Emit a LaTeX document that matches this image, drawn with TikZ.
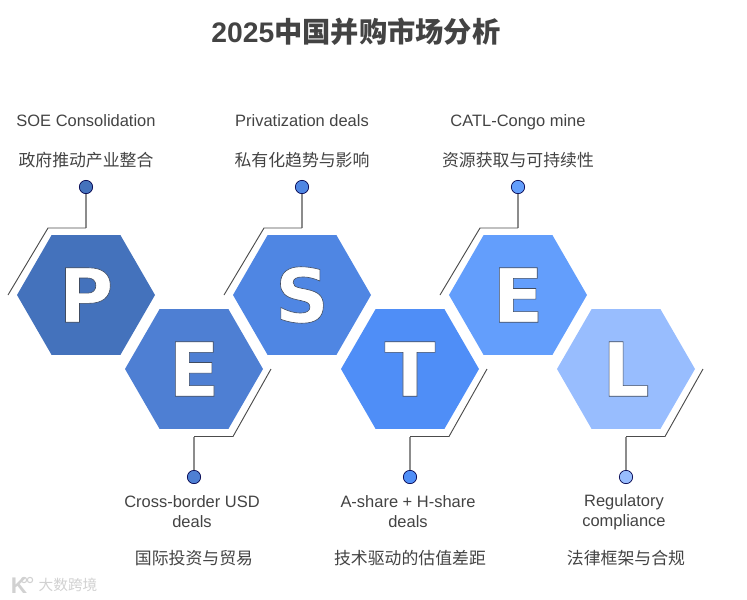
\documentclass[tikz,border=0pt]{standalone}
\usepackage{fontspec}
\setmainfont{Liberation Sans}
\newfontfamily\cjk{Noto Sans CJK SC}
\newfontfamily\bigfont{DejaVu Sans Bold}
\usetikzlibrary{shapes.geometric}
\definecolor{hexP}{HTML}{4472BC}
\definecolor{hexEa}{HTML}{4E7FD3}
\definecolor{hexS}{HTML}{4F86E3}
\definecolor{hexT}{HTML}{4F8EF7}
\definecolor{hexEb}{HTML}{639EFC}
\definecolor{hexL}{HTML}{98BDFE}
\definecolor{ink}{HTML}{434343}
\tikzset{
  hexa/.style={regular polygon,regular polygon sides=6,minimum size=103.5pt,inner sep=0pt,outer sep=0pt},
  dot/.style={circle,draw=black!70!blue,line width=0.5pt,minimum size=10pt,inner sep=0pt},
  stem/.style={draw=gray!90,line width=1.1pt},
  lead/.style={draw=black!70,line width=0.7pt},
  lab/.style={text=ink,font=\fontsize{12.35}{15}\selectfont,align=center},
  cjklab/.style={text=ink,font=\fontsize{12.65}{15}\selectfont\cjk},
  wmark/.style={text=black!18,font=\fontsize{11}{13}\selectfont\cjk},
  wdot/.style={circle,draw=black!18,line width=0.8pt,minimum size=4pt,inner sep=0pt},
}
\newcommand{\outlined}[1]{\special{pdf:code q 2 Tr 0.45 w 0.25 0.3 0.38 RG}#1\special{pdf:code Q}}
\begin{document}
\begin{tikzpicture}[x=0.75pt,y=-0.75pt]
  \useasboundingbox (0,0) rectangle (747,600);
  \node[text=ink,font=\fontsize{21.2}{24}\selectfont\bfseries] (title) at (356,32) {2025{\cjk 中国并购市场分析}};
  % hexagons
  \foreach \n/\x/\y/\c/\t in {1/86/295/hexP/P,2/194/369/hexEa/E,3/302/295/hexS/S,4/410/369/hexT/T,5/518/295/hexEb/E,6/626/369/hexL/L}
    \node[hexa,fill=\c,text=white,font=\fontsize{56}{56}\selectfont\bigfont] (h\n) at (\x,\y) {\outlined{\t}};
  % upper side
  \foreach \n/\x/\c/\a/\b in {1/86/hexP/SOE Consolidation/政府推动产业整合,3/302/hexS/Privatization deals/私有化趋势与影响,5/518/hexEb/CATL-Congo mine/资源获取与可持续性} {
    \node[dot,fill=\c] (d\n) at (\x,187) {};
    \coordinate (p\n) at (\x,228);
    \coordinate (q\n) at (\x-38,228);
    \coordinate (r\n) at (\x-78,295);
    \draw[stem] (d\n) -- (p\n);
    \draw[lead] (p\n) -- (q\n) -- (r\n);
    \node[lab,anchor=base] (a\n) at (\x,126) {\a};
    \node[cjklab] (b\n) at (\x,160) {\b};
  }
  % lower side
  \foreach \n/\x/\c/\a/\b in {2/194/hexEa/{Cross-border USD\\deals}/国际投资与贸易,4/410/hexT/{A-share + H-share\\deals}/技术驱动的估值差距,6/626/hexL/{Regulatory\\compliance}/法律框架与合规} {
    \node[dot,fill=\c] (d\n) at (\x,477) {};
    \coordinate (p\n) at (\x,436.5);
    \coordinate (q\n) at (\x+39,436.5);
    \coordinate (r\n) at (\x+77,369);
    \draw[stem] (d\n) -- (p\n);
    \draw[lead] (p\n) -- (q\n) -- (r\n);
    \node[lab] (a\n) at (\x-2,512) {\a};
    \node[cjklab] (b\n) at (\x,558) {\b};
  }
  \node[wmark] (wm) at (68,585) {大数跨境};
  \node[text=black!18,font=\fontsize{17}{17}\selectfont\bfseries] (wk) at (19,586) {K};
  \node[wdot] (wa) at (24,580) {};
  \node[wdot] (wb) at (30,580) {};
\end{tikzpicture}
\end{document}
